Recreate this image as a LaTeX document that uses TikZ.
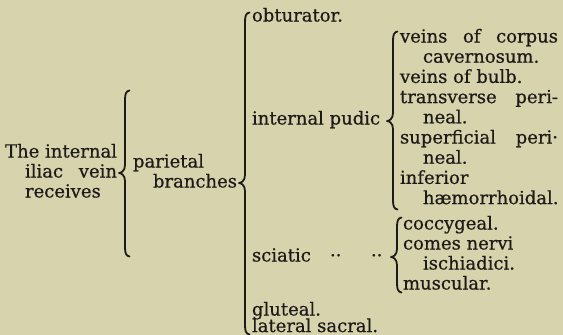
\documentclass[tikz,border=0pt]{standalone}
\usepackage{fontspec}
\setmainfont{DejaVu Serif}[FakeBold=0.6]
\definecolor{paper}{RGB}{214,211,173}
\definecolor{ink}{RGB}{30,26,24}
\newcommand{\mybrace}[5]{% #1 bar x, #2 top y, #3 bottom y, #4 tip x, #5 tip y
  \draw[br] ({#1+4.5},{#2-1.5}) .. controls ({#1+1},{#2-1}) and (#1,{#2+2}) .. (#1,{#2+8})
    -- (#1,{#5-8}) .. controls (#1,{#5-2}) and ({#4+2},#5) .. (#4,#5)
    .. controls ({#4+2},#5) and (#1,{#5+2}) .. (#1,{#5+8})
    -- (#1,{#3-8}) .. controls (#1,{#3-2}) and ({#1+1},{#3+1}) .. ({#1+4.5},{#3+1.5});}
\begin{document}
\begin{tikzpicture}[x=1pt,y=-1pt,
  txt/.style={anchor=base west, inner sep=0pt, outer sep=0pt, text=ink,
    font=\fontsize{18}{20}\selectfont},
  br/.style={draw=ink, line width=1.8pt, line cap=round, line join=round}]
\fill[paper] (0,0) rectangle (563,335);
\useasboundingbox (0,0) rectangle (563,335);
% left column
\node[txt, anchor=base east] (the) at (117,157.5) {The internal};
\node[txt] (iliac) at (25,177.5) {\makebox[92pt][s]{iliac vein}};
\node[txt] (rec) at (25,197.5) {receives};
\mybrace{125}{92}{255}{119}{173}
\node[txt] (par) at (133,167.5) {parietal};
\node[txt] (bra) at (153,187.5) {branches};
\mybrace{245}{14}{333}{239}{183}
% second column
\node[txt] (obt) at (252,21.5) {obturator.};
\node[txt] (pud) at (252,124.5) {internal pudic};
\node[txt] (sci) at (252,261.5) {sciatic};
\node[txt] (d1) at (330,261.5) {··};
\node[txt] (d2) at (371,261.5) {··};
\node[txt] (glu) at (252,315.5) {gluteal.};
\node[txt] (lat) at (252,332) {lateral sacral.};
% internal pudic branches
\mybrace{393}{33}{208}{387}{121}
\node[txt] (r1) at (400,42.5) {\makebox[158pt][s]{veins of corpus}};
\node[txt] (r2) at (423,62.7) {cavernosum.};
\node[txt] (r3) at (400,82.9) {veins of bulb.};
\node[txt] (r4) at (400,103.1) {\makebox[158pt][s]{transverse peri-}};
\node[txt] (r5) at (423,123.3) {neal.};
\node[txt] (r6) at (400,143.5) {\makebox[158pt][s]{superficial peri·}};
\node[txt] (r7) at (423,163.7) {neal.};
\node[txt] (r8) at (400,183.9) {inferior};
\node[txt] (r9) at (423,204.1) {hæmorrhoidal.};
% sciatic branches
\mybrace{397}{219}{291}{391}{257}
\node[txt] (s1) at (403,229.5) {coccygeal.};
\node[txt] (s2) at (403,249.5) {comes nervi};
\node[txt] (s3) at (423,269.5) {ischiadici.};
\node[txt] (s4) at (403,289.5) {muscular.};
\end{tikzpicture}
\end{document}
